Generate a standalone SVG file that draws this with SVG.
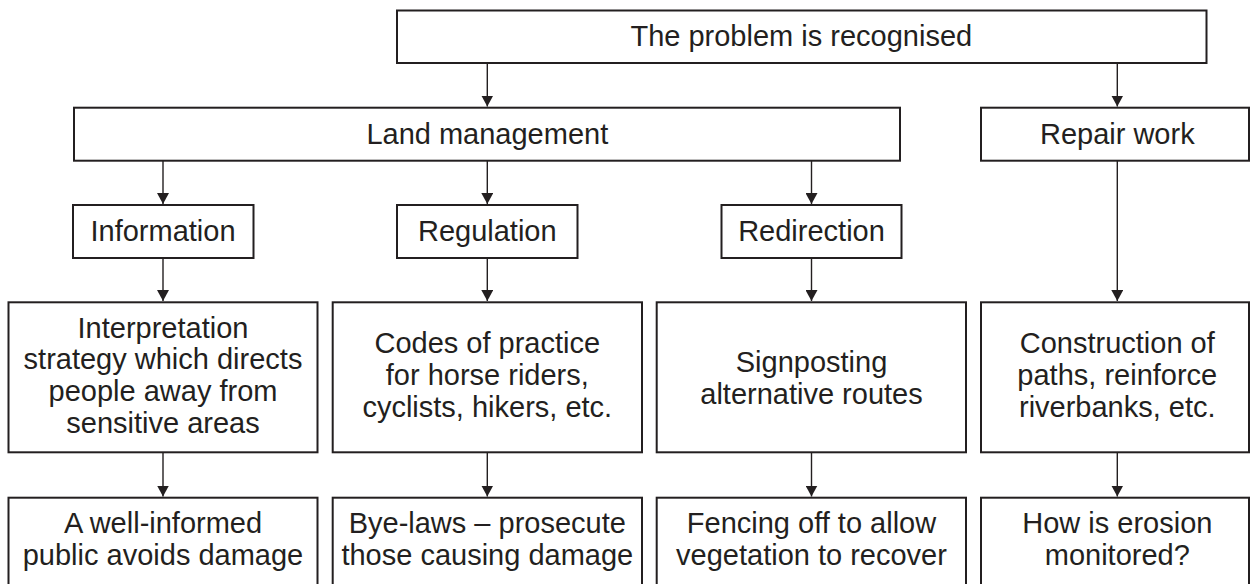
<svg xmlns="http://www.w3.org/2000/svg" width="1250" height="584" viewBox="0 0 1250 584">
<style>
.box{fill:#fff;stroke:#231f20;stroke-width:2}
.lbl{font-family:"Liberation Sans",Arial,sans-serif;font-size:29px;fill:#231f20;text-anchor:middle}
.con{stroke:#231f20;stroke-width:1.4;fill:none;marker-end:url(#ah)}
</style>
<defs>
<marker id="ah" viewBox="0 0 11 12" refX="11" refY="6" markerWidth="11" markerHeight="12" markerUnits="userSpaceOnUse" orient="auto">
<path d="M0,0 L11,6 L0,12 Z" fill="#231f20"/>
</marker>
</defs>
<rect width="1250" height="584" fill="#fff"/>
<g id="connectors">
<line class="con" x1="487.3" y1="63" x2="487.3" y2="106.5"/>
<line class="con" x1="1117.3" y1="63" x2="1117.3" y2="106.5"/>
<line class="con" x1="163" y1="161" x2="163" y2="204"/>
<line class="con" x1="487.3" y1="161" x2="487.3" y2="204"/>
<line class="con" x1="811.5" y1="161" x2="811.5" y2="204"/>
<line class="con" x1="1117.3" y1="161" x2="1117.3" y2="301"/>
<line class="con" x1="163" y1="258" x2="163" y2="301"/>
<line class="con" x1="487.3" y1="258" x2="487.3" y2="301"/>
<line class="con" x1="811.5" y1="258" x2="811.5" y2="301"/>
<line class="con" x1="163" y1="452.3" x2="163" y2="496.5"/>
<line class="con" x1="487.3" y1="452.3" x2="487.3" y2="496.5"/>
<line class="con" x1="811.5" y1="452.3" x2="811.5" y2="496.5"/>
<line class="con" x1="1117.3" y1="452.3" x2="1117.3" y2="496.5"/>
</g>
<g id="n-problem"><rect class="box" x="397" y="10.5" width="809.5" height="52.5"/><text class="lbl" x="801.3" y="46">The problem is recognised</text></g>
<g id="n-land"><rect class="box" x="74" y="107.7" width="826" height="53"/><text class="lbl" x="487.3" y="144">Land management</text></g>
<g id="n-repair"><rect class="box" x="981" y="107.7" width="268" height="53"/><text class="lbl" x="1117.3" y="144">Repair work</text></g>
<g id="n-info"><rect class="box" x="73" y="205" width="180.5" height="53"/><text class="lbl" x="163" y="240.7">Information</text></g>
<g id="n-regulation"><rect class="box" x="397" y="205" width="180.5" height="53"/><text class="lbl" x="487.3" y="240.7">Regulation</text></g>
<g id="n-redirection"><rect class="box" x="721.5" y="205" width="180" height="53"/><text class="lbl" x="811.5" y="240.7">Redirection</text></g>
<g id="n-interp"><rect class="box" x="8.5" y="302.3" width="309" height="150"/>
<text class="lbl" x="163" y="337.7">Interpretation</text>
<text class="lbl" x="163" y="369.3">strategy which directs</text>
<text class="lbl" x="163" y="401">people away from</text>
<text class="lbl" x="163" y="432.7">sensitive areas</text></g>
<g id="n-codes"><rect class="box" x="332.7" y="302.3" width="309.3" height="150"/>
<text class="lbl" x="487.3" y="353.3">Codes of practice</text>
<text class="lbl" x="487.3" y="385">for horse riders,</text>
<text class="lbl" x="487.3" y="417.3">cyclists, hikers, etc.</text></g>
<g id="n-sign"><rect class="box" x="656.7" y="302.3" width="309.3" height="150"/>
<text class="lbl" x="811.5" y="372.3">Signposting</text>
<text class="lbl" x="811.5" y="404">alternative routes</text></g>
<g id="n-construct"><rect class="box" x="981" y="302.3" width="268" height="150"/>
<text class="lbl" x="1117.3" y="353.3">Construction of</text>
<text class="lbl" x="1117.3" y="385">paths, reinforce</text>
<text class="lbl" x="1117.3" y="417.3">riverbanks, etc.</text></g>
<g id="n-public"><rect class="box" x="8.5" y="497.7" width="309" height="120"/>
<text class="lbl" x="163" y="533.3">A well-informed</text>
<text class="lbl" x="163" y="565.3">public avoids damage</text></g>
<g id="n-byelaws"><rect class="box" x="332.7" y="497.7" width="309.3" height="120"/>
<text class="lbl" x="487.3" y="533.3">Bye-laws – prosecute</text>
<text class="lbl" x="487.3" y="565.3">those causing damage</text></g>
<g id="n-fencing"><rect class="box" x="656.7" y="497.7" width="309.3" height="120"/>
<text class="lbl" x="811.5" y="533.3">Fencing off to allow</text>
<text class="lbl" x="811.5" y="565.3">vegetation to recover</text></g>
<g id="n-erosion"><rect class="box" x="981" y="497.7" width="268" height="120"/>
<text class="lbl" x="1117.3" y="533.3">How is erosion</text>
<text class="lbl" x="1117.3" y="565.3">monitored?</text></g>
</svg>
